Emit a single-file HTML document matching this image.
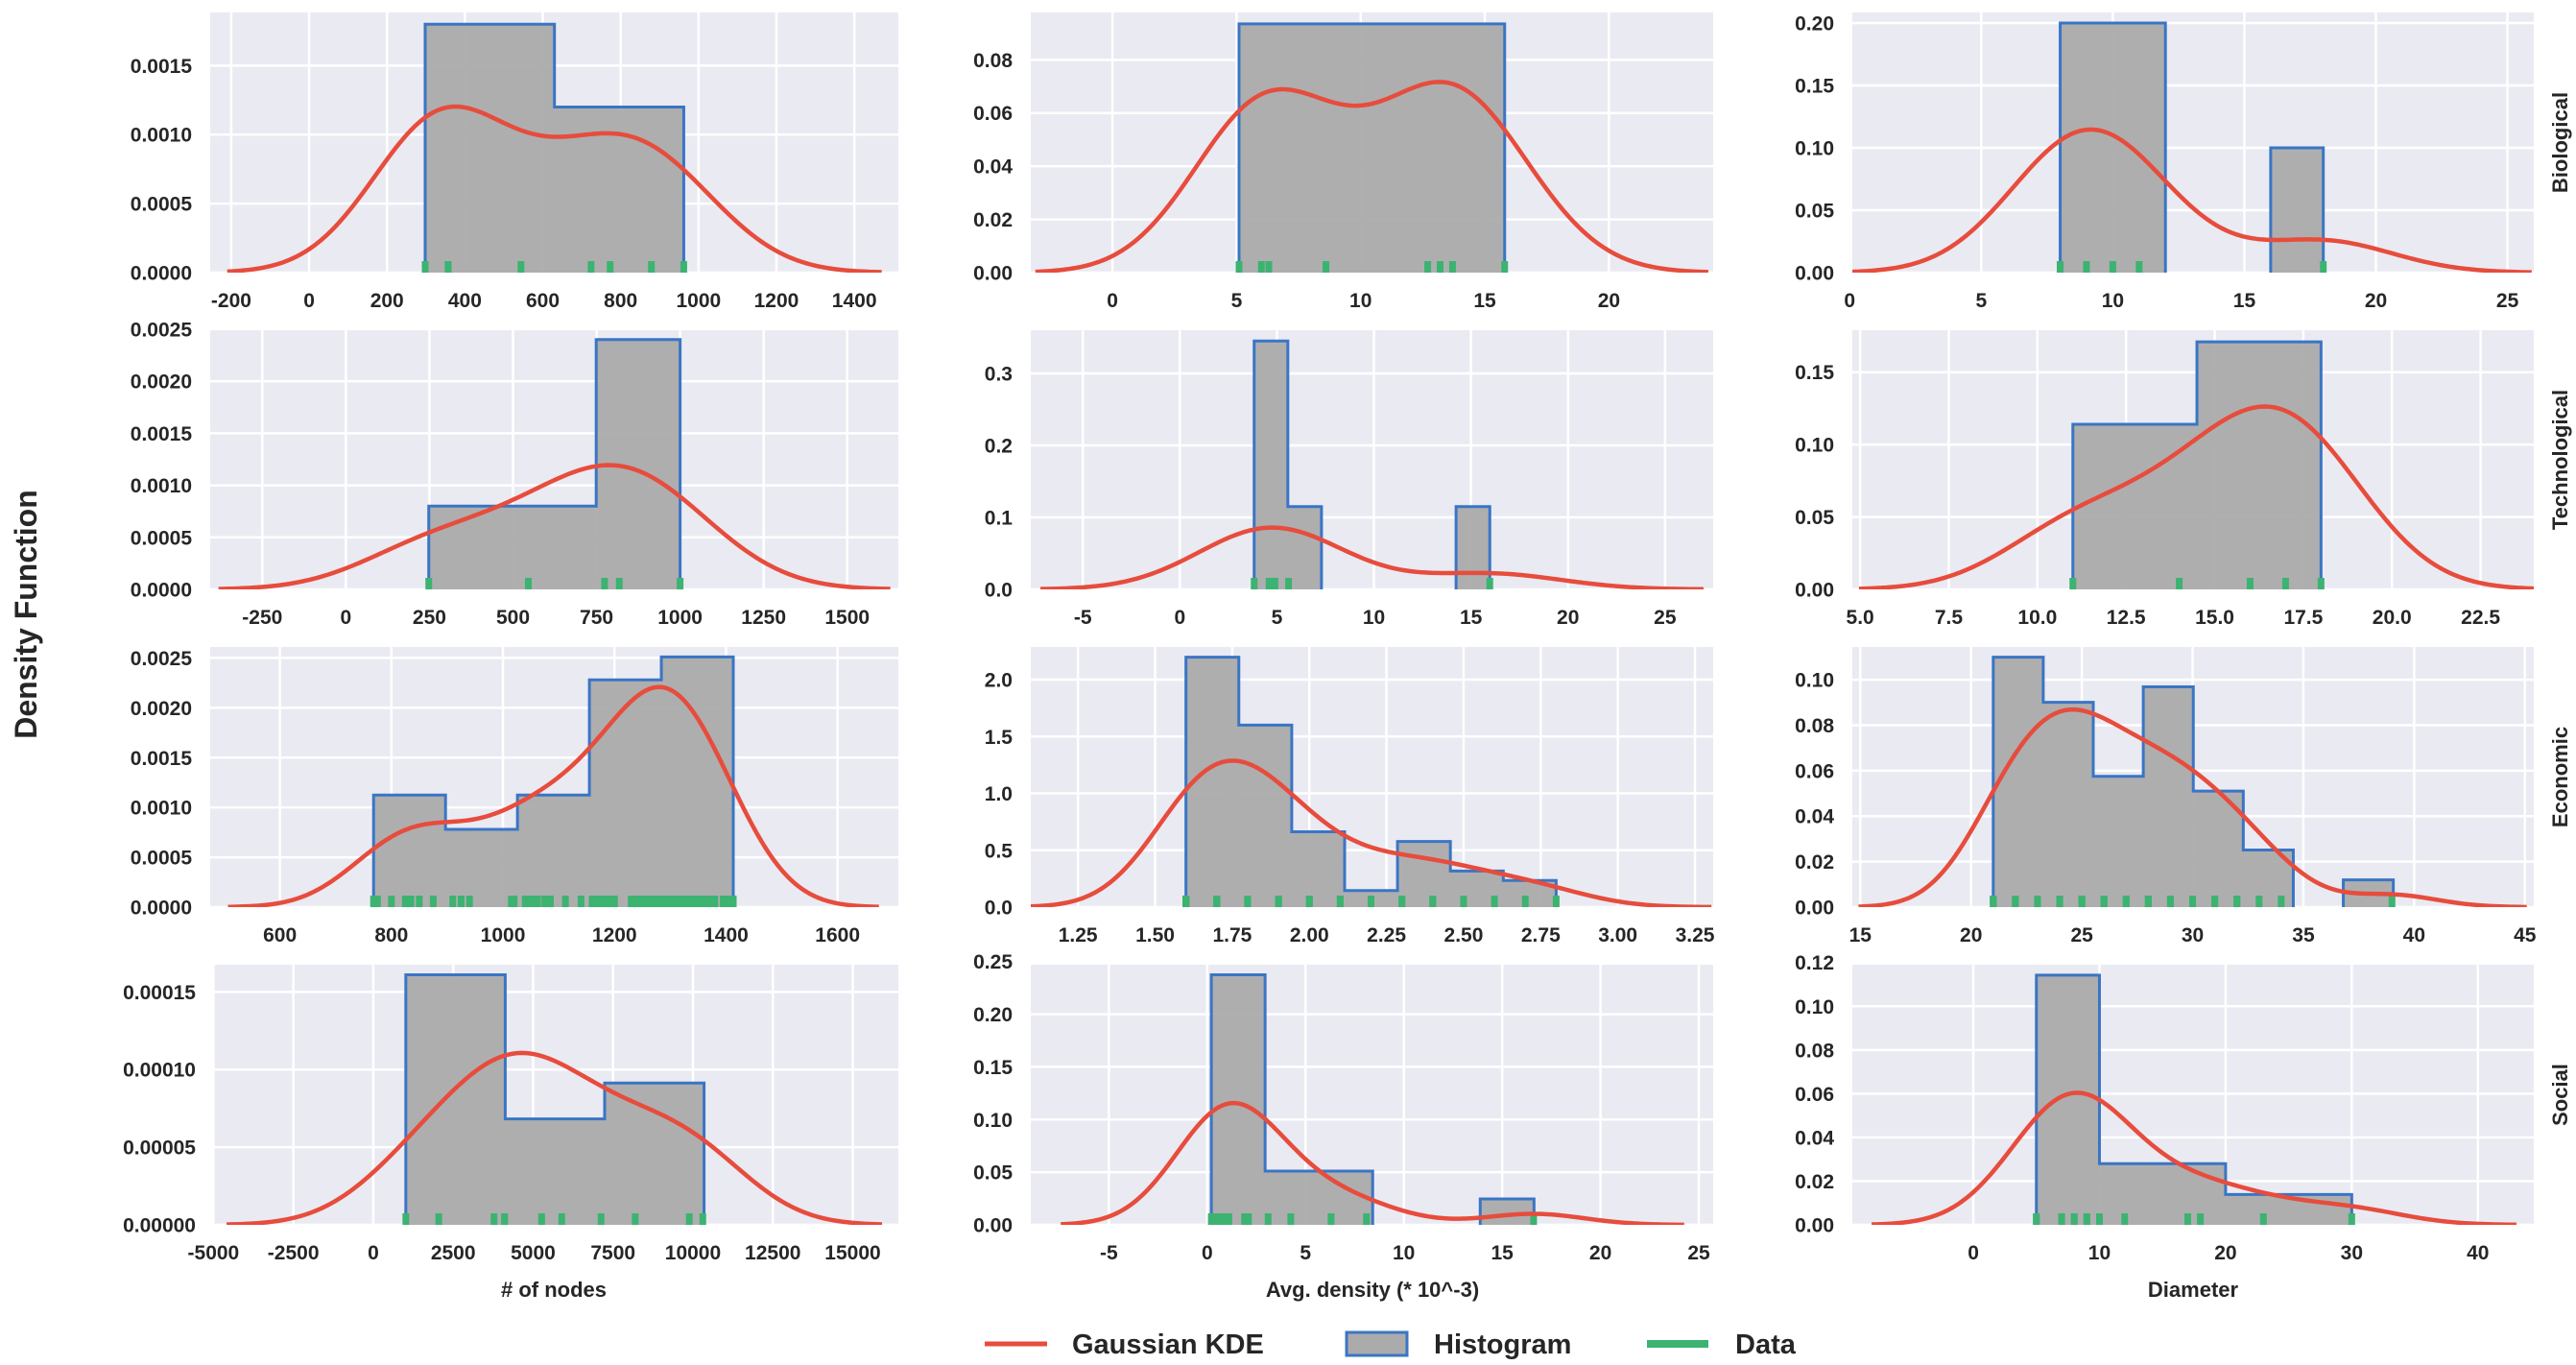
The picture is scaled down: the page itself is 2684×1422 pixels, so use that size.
<!DOCTYPE html>
<html><head><meta charset="utf-8"><style>
html,body{margin:0;padding:0;background:#fff;}
svg{display:block;font-family:"Liberation Sans",Arial,sans-serif;}
</style></head><body>
<svg id="chart" width="2684" height="1422" viewBox="0 0 2684 1422" xmlns="http://www.w3.org/2000/svg">
<text x="0" y="0" transform="translate(38,640) rotate(-90)" text-anchor="middle" font-size="32" font-weight="bold" fill="#262626">Density Function</text>
<text x="577" y="1351" text-anchor="middle" font-size="22" font-weight="bold" fill="#262626"># of nodes</text>
<text x="1430" y="1351" text-anchor="middle" font-size="22" font-weight="bold" fill="#262626">Avg. density (* 10^-3)</text>
<text x="2285" y="1351" text-anchor="middle" font-size="22" font-weight="bold" fill="#262626">Diameter</text>
<g>
  <g>
    <line x1="1026" y1="1400" x2="1091" y2="1400" stroke="#e74c3c" stroke-width="5"/>
    <text x="1117" y="1410" font-size="29" font-weight="bold" fill="#262626">Gaussian KDE</text>
  </g>
  <g>
    <rect x="1403" y="1388" width="63" height="24" fill="#ababab" stroke="#3a75c4" stroke-width="3"/>
    <text x="1494" y="1410" font-size="29" font-weight="bold" fill="#262626">Histogram</text>
  </g>
  <g>
    <line x1="1716" y1="1400" x2="1780" y2="1400" stroke="#3cb371" stroke-width="8"/>
    <text x="1808" y="1410" font-size="29" font-weight="bold" fill="#262626">Data</text>
  </g>
</g>
</svg>
<script>
// ---------- data ----------
// Biological
const bioNodesData = [298, 298, 357, 357, 544, 724, 773, 879, 962];
const bioNodesHistEdges = [298, 630, 962];
const bioNodesHistHeights = [0.0018, 0.0012];
const bioDensityData = [5.1, 6.0, 6.3, 8.6, 12.7, 13.2, 13.7, 15.8];
const bioDensityHistEdges = [5.1, 15.8];
const bioDensityHistHeights = [0.0935];
const bioDiameterData = [8, 8, 9, 10, 11, 18];
const bioDiameterHistEdges = [8, 10, 12, 14, 16, 18];
const bioDiameterHistHeights = [0.2, 0.2, 0, 0, 0.1];
// Technological
const techNodesData = [248, 546, 774, 818, 1000];
const techNodesHistEdges = [248, 499, 749, 1000];
const techNodesHistHeights = [0.0008, 0.0008, 0.0024];
const techDensityData = [3.83, 4.6, 4.9, 5.6, 15.97];
const techDensityHistEdges = [3.83, 5.564, 7.298, 9.032, 10.766, 12.5, 14.234, 15.97];
const techDensityHistHeights = [0.345, 0.115, 0, 0, 0, 0, 0.115];
const techDiameterData = [11, 14, 16, 17, 18];
const techDiameterHistEdges = [11, 14.5, 18];
const techDiameterHistHeights = [0.114, 0.171];
// Economic
const econNodesData = [768, 775, 800, 825, 835, 850, 875, 910, 925, 940, 1015, 1020, 1040, 1050, 1062, 1075, 1085, 1112, 1140, 1160, 1170, 1180, 1190, 1200, 1230, 1235, 1240, 1245, 1250, 1260, 1265, 1270, 1280, 1290, 1295, 1300, 1305, 1310, 1315, 1320, 1330, 1340, 1350, 1360, 1370, 1380, 1395, 1405, 1413];
const econNodesHistEdges = [768, 897, 1026, 1155, 1284, 1413];
const econNodesHistHeights = [0.001125, 0.00078, 0.001125, 0.00228, 0.00251];
const econDensityData = [1.6, 1.6, 1.6, 1.6, 1.6, 1.6, 1.6, 1.7, 1.7, 1.7, 1.7, 1.7, 1.7, 1.8, 1.8, 1.8, 1.8, 1.8, 1.9, 1.9, 1.9, 1.9, 1.9, 2.0, 2.0, 2.1, 2.1, 2.2, 2.3, 2.3, 2.4, 2.4, 2.5, 2.6, 2.7, 2.8];
const econDensityHistEdges = [1.6, 1.7714, 1.9429, 2.1143, 2.2857, 2.4571, 2.6286, 2.8];
const econDensityHistHeights = [2.197, 1.6, 0.662, 0.146, 0.577, 0.318, 0.234];
const econDiameterData = [21, 21, 21, 22, 22, 22, 23, 23, 23, 24, 24, 24, 24, 25, 25, 25, 25, 26, 26, 26, 27, 27, 28, 28, 28, 29, 29, 29, 30, 30, 31, 31, 32, 32, 33, 34, 39];
const econDiameterHistEdges = [21, 23.2575, 25.515, 27.7725, 30.03, 32.2875, 34.545, 36.8025, 39.06];
const econDiameterHistHeights = [0.1099, 0.0901, 0.0575, 0.0969, 0.051, 0.0251, 0, 0.012];
// Social
const socNodesData = [1018, 2048, 3778, 4108, 4108, 5267, 5895, 7126, 8195, 9886, 10309];
const socNodesHistEdges = [1018, 4128, 7238, 10348];
const socNodesHistHeights = [0.000161, 0.0000682, 0.0000913];
const socDensityData = [0.21, 0.3, 0.45, 0.6, 0.75, 0.9, 1.0, 1.1, 1.9, 2.1, 3.1, 4.25, 6.3, 8.1, 16.6];
const socDensityHistEdges = [0.21, 2.945, 5.68, 8.415, 11.15, 13.885, 16.62];
const socDensityHistHeights = [0.2374, 0.051, 0.051, 0, 0, 0.0246];
const socDiameterData = [5, 5, 7, 7, 8, 8, 9, 9, 10, 12, 17, 18, 23, 30];
const socDiameterHistEdges = [5, 10, 15, 20, 25, 30];
const socDiameterHistHeights = [0.1142, 0.028, 0.028, 0.0139, 0.0139];

// tick label arrays
const xTicksBioNodes = ["-200","0","200","400","600","800","1000","1200","1400"];
const yTicksBioNodes = ["0.0000","0.0005","0.0010","0.0015"];
const xTicksBioDensity = ["0","5","10","15","20"];
const yTicksBioDensity = ["0.00","0.02","0.04","0.06","0.08"];
const xTicksBioDiameter = ["0","5","10","15","20","25"];
const yTicksBioDiameter = ["0.00","0.05","0.10","0.15","0.20"];
const xTicksTechNodes = ["-250","0","250","500","750","1000","1250","1500"];
const yTicksTechNodes = ["0.0000","0.0005","0.0010","0.0015","0.0020","0.0025"];
const xTicksTechDensity = ["-5","0","5","10","15","20","25"];
const yTicksTechDensity = ["0.0","0.1","0.2","0.3"];
const xTicksTechDiameter = ["5.0","7.5","10.0","12.5","15.0","17.5","20.0","22.5"];
const yTicksTechDiameter = ["0.00","0.05","0.10","0.15"];
const xTicksEconNodes = ["600","800","1000","1200","1400","1600"];
const yTicksEconNodes = ["0.0000","0.0005","0.0010","0.0015","0.0020","0.0025"];
const xTicksEconDensity = ["1.25","1.50","1.75","2.00","2.25","2.50","2.75","3.00","3.25"];
const yTicksEconDensity = ["0.0","0.5","1.0","1.5","2.0"];
const xTicksEconDiameter = ["15","20","25","30","35","40","45"];
const yTicksEconDiameter = ["0.00","0.02","0.04","0.06","0.08","0.10"];
const xTicksSocNodes = ["-5000","-2500","0","2500","5000","7500","10000","12500","15000"];
const yTicksSocNodes = ["0.00000","0.00005","0.00010","0.00015"];
const xTicksSocDensity = ["-5","0","5","10","15","20","25"];
const yTicksSocDensity = ["0.00","0.05","0.10","0.15","0.20","0.25"];
const xTicksSocDiameter = ["0","10","20","30","40"];
const yTicksSocDiameter = ["0.00","0.02","0.04","0.06","0.08","0.10","0.12"];

const rowLabels = ["Biological","Technological","Economic","Social"];

// ---------- layout (not data) ----------
const colLeft = [219, 1074, 1930], colRight = [936, 1785, 2640];
const rowTop = [13, 344, 674, 1005], rowBottom = [284, 614, 945, 1276];

const panels = [
 {name:"biological-nodes", r:0,c:0, data:bioNodesData, edges:bioNodesHistEdges, heights:bioNodesHistHeights, xd:[-254,1513], yd:[0,0.001885], xt:xTicksBioNodes, yt:yTicksBioNodes},
 {name:"biological-density", r:0,c:1, data:bioDensityData, edges:bioDensityHistEdges, heights:bioDensityHistHeights, xd:[-3.29,24.2], yd:[0,0.0978], xt:xTicksBioDensity, yt:yTicksBioDensity},
 {name:"biological-diameter", r:0,c:2, data:bioDiameterData, edges:bioDiameterHistEdges, heights:bioDiameterHistHeights, xd:[0.1,26.0], yd:[0,0.2085], xt:xTicksBioDiameter, yt:yTicksBioDiameter},
 {name:"technological-nodes", r:1,c:0, data:techNodesData, edges:techNodesHistEdges, heights:techNodesHistHeights, xd:[-406,1653], yd:[0,0.00249], xt:xTicksTechNodes, yt:yTicksTechNodes},
 {name:"technological-density", r:1,c:1, data:techDensityData, edges:techDensityHistEdges, heights:techDensityHistHeights, xd:[-7.68,27.48], yd:[0,0.36], xt:xTicksTechDensity, yt:yTicksTechDensity},
 {name:"technological-diameter", r:1,c:2, data:techDiameterData, edges:techDiameterHistEdges, heights:techDiameterHistHeights, xd:[4.78,24.0], yd:[0,0.179], xt:xTicksTechDiameter, yt:yTicksTechDiameter},
 {name:"economic-nodes", r:2,c:0, data:econNodesData, edges:econNodesHistEdges, heights:econNodesHistHeights, xd:[475,1709], yd:[0,0.00261], xt:xTicksEconNodes, yt:yTicksEconNodes},
 {name:"economic-density", r:2,c:1, data:econDensityData, edges:econDensityHistEdges, heights:econDensityHistHeights, xd:[1.097,3.309], yd:[0,2.287], xt:xTicksEconDensity, yt:yTicksEconDensity},
 {name:"economic-diameter", r:2,c:2, data:econDiameterData, edges:econDiameterHistEdges, heights:econDiameterHistHeights, xd:[14.64,45.4], yd:[0,0.1144], xt:xTicksEconDiameter, yt:yTicksEconDiameter},
 {name:"social-nodes", r:3,c:0, data:socNodesData, edges:socNodesHistEdges, heights:socNodesHistHeights, xd:[-4982,16426], yd:[0,0.0001675], xt:xTicksSocNodes, yt:yTicksSocNodes, left:223},
 {name:"social-density", r:3,c:1, data:socDensityData, edges:socDensityHistEdges, heights:socDensityHistHeights, xd:[-8.97,25.73], yd:[0,0.247], xt:xTicksSocDensity, yt:yTicksSocDensity},
 {name:"social-diameter", r:3,c:2, data:socDiameterData, edges:socDiameterHistEdges, heights:socDiameterHistHeights, xd:[-9.59,44.43], yd:[0,0.119], xt:xTicksSocDiameter, yt:yTicksSocDiameter}
];

const NS = "http://www.w3.org/2000/svg";
const svg = document.getElementById("chart");
function mk(tag, attrs, parent){
  const e = document.createElementNS(NS, tag);
  for (const k in attrs) e.setAttribute(k, attrs[k]);
  (parent||svg).appendChild(e);
  return e;
}
function kde(data){
  const n = data.length;
  const mean = data.reduce((a,b)=>a+b,0)/n;
  const sd = Math.sqrt(data.reduce((a,b)=>a+(b-mean)*(b-mean),0)/(n-1));
  const h = sd*Math.pow(n,-0.2);
  const lo = Math.min(...data)-3*h, hi = Math.max(...data)+3*h;
  const pts = [];
  for (let i=0;i<=200;i++){
    const x = lo+(hi-lo)*i/200;
    let s=0;
    for (const d of data){ const z=(x-d)/h; s+=Math.exp(-0.5*z*z); }
    pts.push([x, s/(n*h*Math.sqrt(2*Math.PI))]);
  }
  return pts;
}

panels.forEach((p, idx) => {
  const L = p.left || colLeft[p.c], R = colRight[p.c], T = rowTop[p.r], B = rowBottom[p.r];
  const xs = v => L + (v - p.xd[0])/(p.xd[1]-p.xd[0])*(R-L);
  const ys = v => B - (v - p.yd[0])/(p.yd[1]-p.yd[0])*(B-T);
  const g = mk("g", {});
  
  
  const bg = mk("rect", {x:L, y:T, width:R-L, height:B-T, fill:"#eaeaf2"}, g);
  
  
  const cp = mk("clipPath", {id:"clip"+idx}, g);
  mk("rect", {x:L, y:T, width:R-L, height:B-T}, cp);
  p.xt.forEach(t => {
    const v = parseFloat(t), x = xs(v);
    const gl = mk("line", {x1:x, x2:x, y1:T, y2:B, stroke:"#fff", "stroke-width":2.5}, g);
    
    
    const tl = mk("text", {x:x, y:B+36, "text-anchor":"middle", "font-size":21, "font-weight":"bold", fill:"#262626"}, g);
    tl.textContent = t;
    
    
  });
  p.yt.forEach(t => {
    const v = parseFloat(t), y = ys(v);
    const gl = mk("line", {x1:L, x2:R, y1:y, y2:y, stroke:"#fff", "stroke-width":2.5}, g);
    
    
    const tl = mk("text", {x:L-19, y:y+7.5, "text-anchor":"end", "font-size":21, "font-weight":"bold", fill:"#262626"}, g);
    tl.textContent = t;
    
    
  });
  // histogram: fill and outline per contiguous run of non-zero bins
  const e = p.edges, hh = p.heights;
  let i = 0;
  while (i < hh.length){
    if (hh[i] <= 0){ i++; continue; }
    let j = i;
    while (j < hh.length && hh[j] > 0) j++;
    let d = "M" + xs(e[i]) + "," + ys(0);
    for (let k=i;k<j;k++) d += " L" + xs(e[k]) + "," + ys(hh[k]) + " L" + xs(e[k+1]) + "," + ys(hh[k]);
    d += " L" + xs(e[j]) + "," + ys(0);
    const hf = mk("path", {d:d + " Z", fill:"#ababab", "fill-opacity":0.95, stroke:"none", "clip-path":"url(#clip"+idx+")"}, g);
    
    
    const hl = mk("path", {d:d, fill:"none", stroke:"#3a75c4", "stroke-width":3, "clip-path":"url(#clip"+idx+")"}, g);
    
    
    i = j;
  }
  p.data.forEach(d => {
    const x = xs(d);
    const rl = mk("line", {x1:x, x2:x, y1:B, y2:B-12, stroke:"#3cb371", "stroke-width":7}, g);
    
    
  });
  const pts = kde(p.data);
  const kd = "M" + pts.map(q => xs(q[0]).toFixed(2) + "," + ys(q[1]).toFixed(2)).join(" L");
  const kp = mk("path", {d:kd, fill:"none", stroke:"#e74c3c", "stroke-width":4.5, "stroke-linejoin":"round", "clip-path":"url(#clip"+idx+")"}, g);
  
  
  if (p.c === 2){
    const cy = (T+B)/2;
    const rlb = mk("text", {x:0, y:0, transform:"translate(2675,"+cy+") rotate(-90)", "text-anchor":"middle", "font-size":22, "font-weight":"bold", fill:"#262626"}, svg);
    rlb.textContent = rowLabels[p.r];
    
    
  }
});
</script>
</body></html>
